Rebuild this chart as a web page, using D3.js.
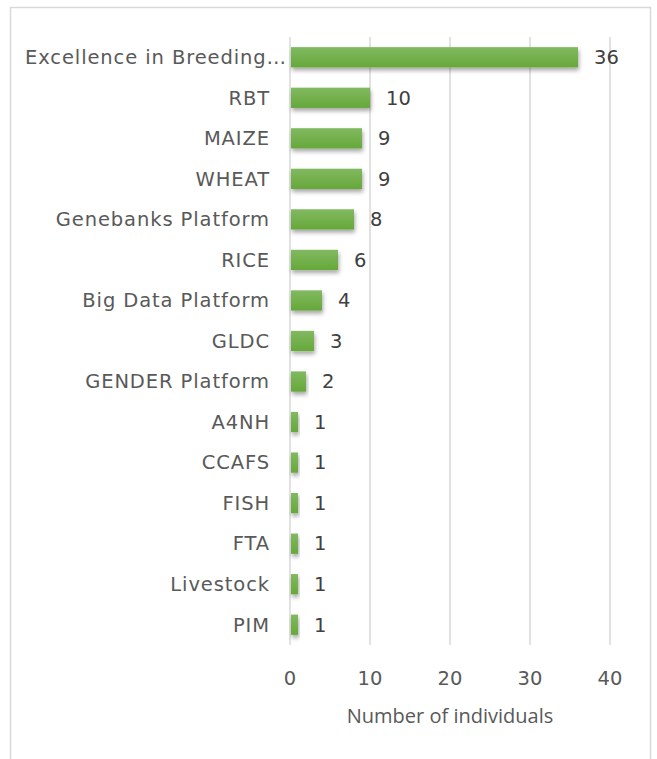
<!DOCTYPE html>
<html><head><meta charset="utf-8">
<script src="https://cdn.jsdelivr.net/npm/d3@7/dist/d3.min.js"></script>
<style>body{margin:0;background:#fff;}svg{display:block;}</style>
</head><body>
<script>
const categories = ["Excellence in Breeding…","RBT","MAIZE","WHEAT","Genebanks Platform","RICE","Big Data Platform","GLDC","GENDER Platform","A4NH","CCAFS","FISH","FTA","Livestock","PIM"];
const values = [36,10,9,9,8,6,4,3,2,1,1,1,1,1,1];
const xTicks = [0,10,20,30,40];
const axisTitle = "Number of individuals";

const W = 657, H = 759;
const svg = d3.select("body").append("svg").attr("width", W).attr("height", H);
const font = "'DejaVu Sans', Verdana, sans-serif";
const fs = 19.5, ls = 0.9;

svg.append("rect").attr("x",10.5).attr("y",7.5).attr("width",640).attr("height",780)
  .attr("fill","none").attr("stroke","#d9d9d9").attr("stroke-width",1.5);

const x = d3.scaleLinear().domain([0,40]).range([290,610]);
const y = d3.scaleBand().domain(categories).range([37,645]).paddingInner(0.5).paddingOuter(0.25);

const defs = svg.append("defs");
const grad = defs.append("linearGradient").attr("id","g").attr("x1",0).attr("y1",0).attr("x2",0).attr("y2",1);
grad.append("stop").attr("offset","0%").attr("stop-color","#81b960");
grad.append("stop").attr("offset","100%").attr("stop-color","#66a83a");
const f = defs.append("filter").attr("id","sh").attr("x","-20%").attr("y","-30%").attr("width","140%").attr("height","180%");
f.append("feDropShadow").attr("dx",1).attr("dy",3).attr("stdDeviation",2).attr("flood-color","#000").attr("flood-opacity",0.35);

svg.append("g").selectAll("line").data(xTicks).join("line")
  .attr("x1",d=>x(d)).attr("x2",d=>x(d)).attr("y1",37).attr("y2",645)
  .attr("stroke","#d9d9d9").attr("stroke-width",1.5);

svg.append("g").selectAll("rect").data(values).join("rect")
  .attr("x",x(0)+1).attr("y",(d,i)=>y(categories[i]))
  .attr("width",d=>x(d)-x(0)-1).attr("height",y.bandwidth())
  .attr("fill","url(#g)").attr("filter","url(#sh)");

svg.append("g").selectAll("text").data(categories).join("text")
  .attr("x",d=>d.endsWith("…") ? x(0)-3 : x(0)-20).attr("y",d=>y(d)+y.bandwidth()/2).attr("dy","0.35em")
  .attr("text-anchor","end").attr("font-family",font).attr("font-size",fs).attr("letter-spacing",ls)
  .attr("fill","#595959").text(d=>d);

svg.append("g").selectAll("text").data(values).join("text")
  .attr("x",d=>x(d)+16).attr("y",(d,i)=>y(categories[i])+y.bandwidth()/2).attr("dy","0.35em")
  .attr("font-family",font).attr("font-size",fs).attr("fill","#404040").text(d=>d);

svg.append("g").selectAll("text").data(xTicks).join("text")
  .attr("x",d=>x(d)).attr("y",678).attr("dy","0.35em").attr("text-anchor","middle")
  .attr("font-family",font).attr("font-size",fs).attr("fill","#595959").text(d=>d);

svg.append("text").attr("x",450).attr("y",716).attr("dy","0.35em").attr("text-anchor","middle")
  .attr("font-family","'Open Sans', sans-serif").attr("font-size",20).attr("fill","#595959").text(axisTitle);
</script>
</body></html>
